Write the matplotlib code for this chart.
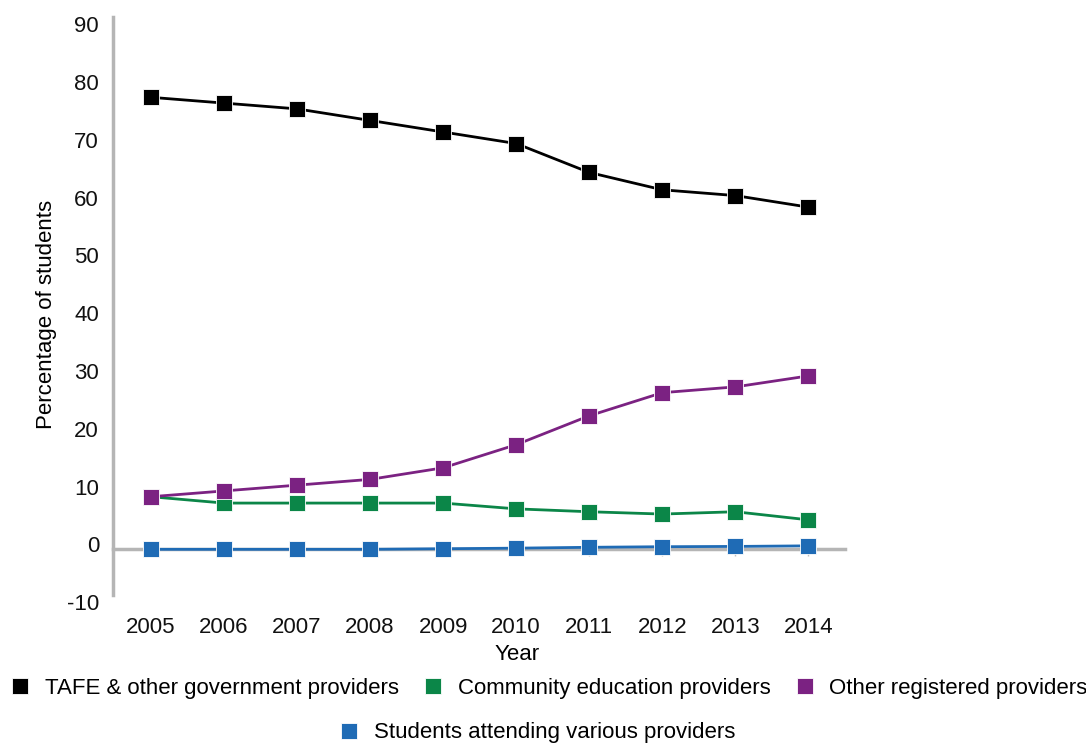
import matplotlib.pyplot as plt
from matplotlib.lines import Line2D
from matplotlib.transforms import ScaledTranslation

plt.rcParams['font.family'] = ['Liberation Sans', 'DejaVu Sans']
plt.rcParams['axes.unicode_minus'] = False

years = [2005, 2006, 2007, 2008, 2009, 2010, 2011, 2012, 2013, 2014]
tafe = [78.2, 77.2, 76.2, 74.2, 72.2, 70.2, 65.2, 62.2, 61.2, 59.2]
community = [9.1, 8.0, 8.0, 8.0, 8.0, 7.0, 6.5, 6.1, 6.5, 5.1]
other = [9.1, 10.1, 11.1, 12.1, 14.1, 18.1, 23.1, 27.1, 28.1, 30.0]
various = [0.0, 0.0, 0.0, 0.0, 0.1, 0.2, 0.35, 0.45, 0.5, 0.6]

names = ['TAFE & other government providers', 'Community education providers',
         'Other registered providers', 'Students attending various providers']
colors = ['#000000', '#0b8648', '#7b2282', '#1f6bb5']
series = [tafe, community, other, various]

fig = plt.figure(figsize=(10.86, 7.44), dpi=100)
ax = fig.add_axes([0.104, 0.1801, 0.674, 0.8002])

grey = '#b5b5b5'
for vals, c in zip(series, colors):
    ax.plot(years, vals, color=c, lw=2, marker='s', markersize=11.8,
            markeredgecolor='white', markeredgewidth=0.6, zorder=3)

ax.set_xlim(2004.48, 2014.5)
ax.set_ylim(-10.5, 92.5)
ax.set_yticks(range(-10, 91, 10))
ax.set_xticks(years)

for s in ['top', 'right']:
    ax.spines[s].set_visible(False)
ax.spines['left'].set_color(grey)
ax.spines['left'].set_linewidth(2.5)
ax.spines['left'].set_bounds(-7.9, 92.1)
ax.spines['bottom'].set_position(('data', 0))
ax.spines['bottom'].set_color(grey)
ax.spines['bottom'].set_linewidth(2.5)
ax.spines['bottom'].set_zorder(1)

ax.tick_params(axis='y', length=0, pad=10, labelsize=16, labelcolor='#111111')
ax.tick_params(axis='x', length=5, width=1, color='#c0c0c0', direction='out',
               pad=44, labelsize=16, labelcolor='#111111')

# y labels sit a few pixels above their gridline value
shift = ScaledTranslation(0, 5 / 100, fig.dpi_scale_trans)
for t in ax.yaxis.get_major_ticks():
    t.label1.set_transform(t.label1.get_transform() + shift)

fig.text(47 / 1086, 1 - 314 / 744, 'Percentage of students', rotation=90,
         ha='center', va='center', fontsize=16)
fig.text(517 / 1086, 1 - 655 / 744, 'Year', ha='center', va='center', fontsize=16)

handles = [Line2D([], [], ls='none', marker='s', markersize=11.8, color=c,
                  markeredgecolor='white', markeredgewidth=0.6) for c in colors]
fig.legend(handles[:3], names[:3], loc='center', bbox_to_anchor=(0.506, 0.075),
           ncol=3, frameon=False, fontsize=16, handlelength=0.8,
           handletextpad=0.7, columnspacing=1.15)
fig.legend(handles[3:], names[3:], loc='center', bbox_to_anchor=(0.495, 0.015),
           frameon=False, fontsize=16, handlelength=0.8, handletextpad=0.7)

fig.savefig('out.png', dpi=100)
